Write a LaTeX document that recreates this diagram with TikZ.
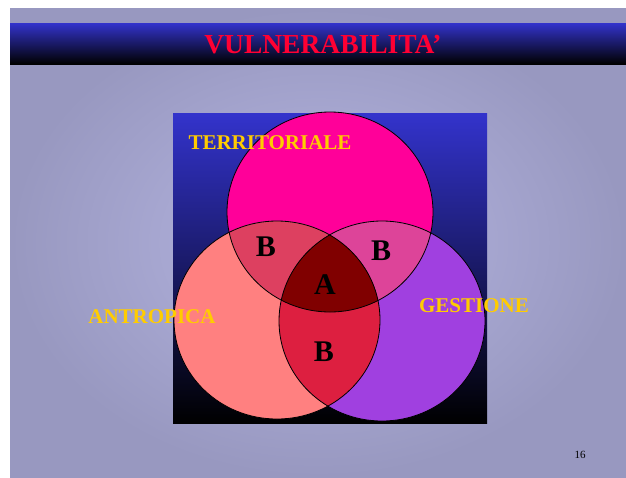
\documentclass[tikz,border=0pt]{standalone}
\usepackage{fontspec}
\setmainfont{Liberation Serif}
\definecolor{bgin}{RGB}{182,182,226}
\definecolor{bgout}{RGB}{152,152,192}
\definecolor{barblue}{RGB}{51,51,204}
\definecolor{sqmid}{RGB}{38,38,160}
\definecolor{titlered}{RGB}{255,0,51}
\definecolor{gold}{RGB}{255,204,0}
\definecolor{setT}{RGB}{255,0,153}
\definecolor{setL}{RGB}{255,128,128}
\definecolor{setR}{RGB}{160,64,224}
\definecolor{setTL}{RGB}{221,64,96}
\definecolor{setTR}{RGB}{221,68,153}
\definecolor{setLR}{RGB}{221,31,64}
\definecolor{setTLR}{RGB}{128,0,0}
\tikzset{
  setlabel/.style={text=gold, font=\fontsize{21}{23}\selectfont\bfseries, inner sep=0pt},
  zonelabel/.style={text=black, font=\fontsize{30}{32}\selectfont\bfseries, inner sep=0pt},
  outline/.style={draw=black, line width=0.8pt}
}
% the three sets
\def\setTpath{(330,212) ellipse [x radius=103pt, y radius=100pt]}
\def\setLpath{(277,320) ellipse [x radius=103pt, y radius=99pt]}
\def\setRpath{(382,321) ellipse [x radius=103pt, y radius=100pt]}
\begin{document}
\begin{tikzpicture}[x=1pt, y=-1pt]
\useasboundingbox (0,0) rectangle (626,477);
\fill[white] (0,0) rectangle (626,477);
% slide background and title bar
\shade[inner color=bgin, outer color=bgout] (10,8) rectangle (626,477);
\shade[top color=barblue, bottom color=black] (10,23) rectangle (626,64);
\node[text=titlered, font=\fontsize{27.5}{30}\selectfont\bfseries, inner sep=0pt] (title) at (323,45) {VULNERABILITA’};
% panel behind the diagram
\shade[top color=barblue, middle color=sqmid, bottom color=black] (173,113) rectangle (487,423);
% single sets
\fill[setT] \setTpath;
\fill[setL] \setLpath;
\fill[setR] \setRpath;
% pairwise overlaps
\begin{scope}
  \clip \setTpath;
  \fill[setTL] \setLpath;
\end{scope}
\begin{scope}
  \clip \setTpath;
  \fill[setTR] \setRpath;
\end{scope}
\begin{scope}
  \clip \setLpath;
  \fill[setLR] \setRpath;
\end{scope}
% common core
\begin{scope}
  \clip \setTpath;
  \clip \setLpath;
  \fill[setTLR] \setRpath;
\end{scope}
% outlines
\draw[outline] \setTpath;
\draw[outline] \setLpath;
\draw[outline] \setRpath;
% labels
\node[setlabel] (territoriale) at (270,143) {TERRITORIALE};
\node[setlabel] (antropica) at (152,317) {ANTROPICA};
\node[setlabel] (gestione) at (474,306) {GESTIONE};
\node[zonelabel] (bTL) at (266,247) {B};
\node[zonelabel] (bTR) at (381,251) {B};
\node[zonelabel] (aCore) at (325,285) {A};
\node[zonelabel] (bLR) at (324,352) {B};
\node[font=\fontsize{11}{13}\selectfont, inner sep=0pt] (page) at (580,455) {16};
\end{tikzpicture}
\end{document}
